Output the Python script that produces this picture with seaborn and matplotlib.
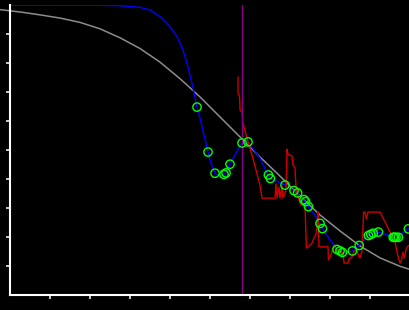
import matplotlib
matplotlib.use("Agg")
import matplotlib.pyplot as plt
import seaborn as sns

# ---- data ----
gray_x = [-0.25, 0.25, 0.75, 1.25, 1.75, 2.25, 2.75, 3.25, 3.75, 4.25, 4.75, 5.25,
          5.75, 6.25, 6.75, 7.25, 7.75, 8.25, 8.75, 9.25, 9.75, 10.0]
gray_y = [9.84, 9.76, 9.66, 9.55, 9.40, 9.18, 8.87, 8.50, 8.03, 7.46, 6.83, 6.14,
          5.45, 4.76, 4.10, 3.41, 2.76, 2.21, 1.69, 1.28, 0.99, 0.88]

blue_x = [0.0, 1.25, 2.25, 2.75, 3.25, 3.5, 3.75, 4.0, 4.175, 4.325, 4.45, 4.575,
          4.675, 4.75, 4.825, 4.9, 4.95, 5.025, 5.125, 5.25, 5.375, 5.5, 5.65, 5.8,
          5.95, 6.1, 6.25, 6.45, 6.5, 6.7, 6.875, 7.075, 7.175, 7.325, 7.375, 7.45,
          7.6, 7.75, 7.81, 8.0, 8.175, 8.25, 8.31, 8.425, 8.56, 8.725, 8.85, 8.95,
          9.01, 9.075, 9.2, 9.375, 9.575, 9.65, 9.7, 9.825, 9.95, 10.0]
blue_y = [9.99, 9.99, 9.99, 9.976, 9.92, 9.83, 9.60, 9.25, 8.91, 8.45, 7.87, 7.14,
          6.48, 6.10, 5.66, 5.24, 4.93, 4.55, 4.21, 4.09, 4.17, 4.52, 4.90, 5.24,
          5.28, 5.00, 4.72, 4.14, 4.03, 3.90, 3.79, 3.62, 3.53, 3.28, 3.21, 3.05,
          2.79, 2.48, 2.29, 1.90, 1.57, 1.52, 1.47, 1.45, 1.52, 1.71, 1.90, 2.05,
          2.09, 2.13, 2.17, 2.10, 1.99, 1.99, 1.99, 2.14, 2.28, 2.31]

red_x = [5.7, 5.7, 5.74, 5.75, 5.8, 5.825, 5.875, 5.95, 6.05, 6.15, 6.25, 6.3,
         6.625, 6.65, 6.675, 6.725, 6.75, 6.8, 6.825, 6.9, 6.925, 6.95, 7.05, 7.075,
         7.125, 7.15, 7.225, 7.275, 7.375, 7.41, 7.475, 7.55, 7.6, 7.65, 7.675, 7.7,
         7.725, 7.95, 7.96, 8.025, 8.075, 8.125, 8.15, 8.25, 8.325, 8.35, 8.45, 8.475,
         8.55, 8.6, 8.675, 8.725, 8.75, 8.8, 8.84, 8.875, 8.91, 8.95, 9.25, 9.375,
         9.5, 9.625, 9.675, 9.71, 9.75, 9.79, 9.825, 9.86, 9.91, 9.95, 10.0]
red_y = [7.52, 6.97, 6.83, 6.38, 6.31, 5.93, 5.66, 5.28, 4.83, 4.31, 3.79, 3.34,
         3.34, 3.83, 3.34, 3.72, 3.34, 3.76, 3.34, 3.62, 5.03, 4.86, 4.79, 4.48,
         4.38, 3.69, 3.28, 3.10, 3.10, 1.62, 1.69, 1.79, 1.97, 2.10, 2.41, 2.86,
         1.66, 1.66, 1.21, 1.38, 1.62, 1.72, 1.52, 1.48, 1.45, 1.10, 1.10, 1.24,
         1.31, 1.52, 1.52, 1.31, 1.28, 1.52, 2.86, 2.86, 2.62, 2.86, 2.86, 2.52,
         2.17, 1.83, 1.48, 1.28, 1.10, 1.21, 1.48, 1.28, 1.62, 1.69, 1.72]

pts_x = [4.675, 4.95, 5.125, 5.35, 5.4, 5.5, 5.8, 5.95, 6.46, 6.51, 6.875, 7.1,
         7.19, 7.35, 7.39, 7.46, 7.75, 7.81, 8.175, 8.25, 8.31, 8.56, 8.73, 8.96,
         9.02, 9.08, 9.21, 9.58, 9.61, 9.65, 9.71, 9.96]
pts_y = [6.48, 4.93, 4.20, 4.16, 4.21, 4.51, 5.24, 5.28, 4.14, 4.02, 3.79, 3.60,
         3.52, 3.29, 3.22, 3.05, 2.47, 2.29, 1.57, 1.52, 1.47, 1.52, 1.71, 2.05,
         2.09, 2.13, 2.17, 1.99, 1.99, 1.99, 1.99, 2.28]

marker_x = 5.8
x_ticks = [1, 2, 3, 4, 5, 6, 7, 8, 9]
y_ticks = [1, 2, 3, 4, 5, 6, 7, 8, 9]

# ---- style ----
sns.set_theme(style="ticks", rc={
    "figure.facecolor": "black",
    "axes.facecolor": "black",
    "axes.edgecolor": "white",
    "xtick.color": "white",
    "ytick.color": "white",
})

fig = plt.figure(figsize=(4.1, 3.1), dpi=100)
ax = fig.add_axes([10 / 410, 15 / 310, 400 / 410, 290 / 310])
ax.set_facecolor("black")

sns.lineplot(x=gray_x, y=gray_y, ax=ax, color="#8c8c8c", linewidth=1.1,
             sort=False, estimator=None, clip_on=False)
sns.lineplot(x=blue_x, y=blue_y, ax=ax, color="#0000ff", linewidth=1.0,
             sort=False, estimator=None)
sns.lineplot(x=red_x, y=red_y, ax=ax, color="#cc0000", linewidth=1.0,
             sort=False, estimator=None)
ax.axvline(marker_x, color="#880088", linewidth=1.0)
sns.scatterplot(x=pts_x, y=pts_y, ax=ax, s=36, marker="o",
                facecolors="none", edgecolors="#00ff00", linewidths=1.0,
                zorder=5)

ax.set_xlim(0, 10)
ax.set_ylim(0, 10)
ax.set_xticks(x_ticks)
ax.set_yticks(y_ticks)
ax.set_xticklabels([])
ax.set_yticklabels([])
ax.tick_params(direction="out", length=3, width=1.1, colors="white")
for side in ["top", "right"]:
    ax.spines[side].set_visible(False)
for side in ["left", "bottom"]:
    ax.spines[side].set_color("white")
    ax.spines[side].set_linewidth(1.5)
ax.set_xlabel("")
ax.set_ylabel("")
if ax.get_legend() is not None:
    ax.get_legend().remove()

fig.savefig("out.png", dpi=100, facecolor="black")
